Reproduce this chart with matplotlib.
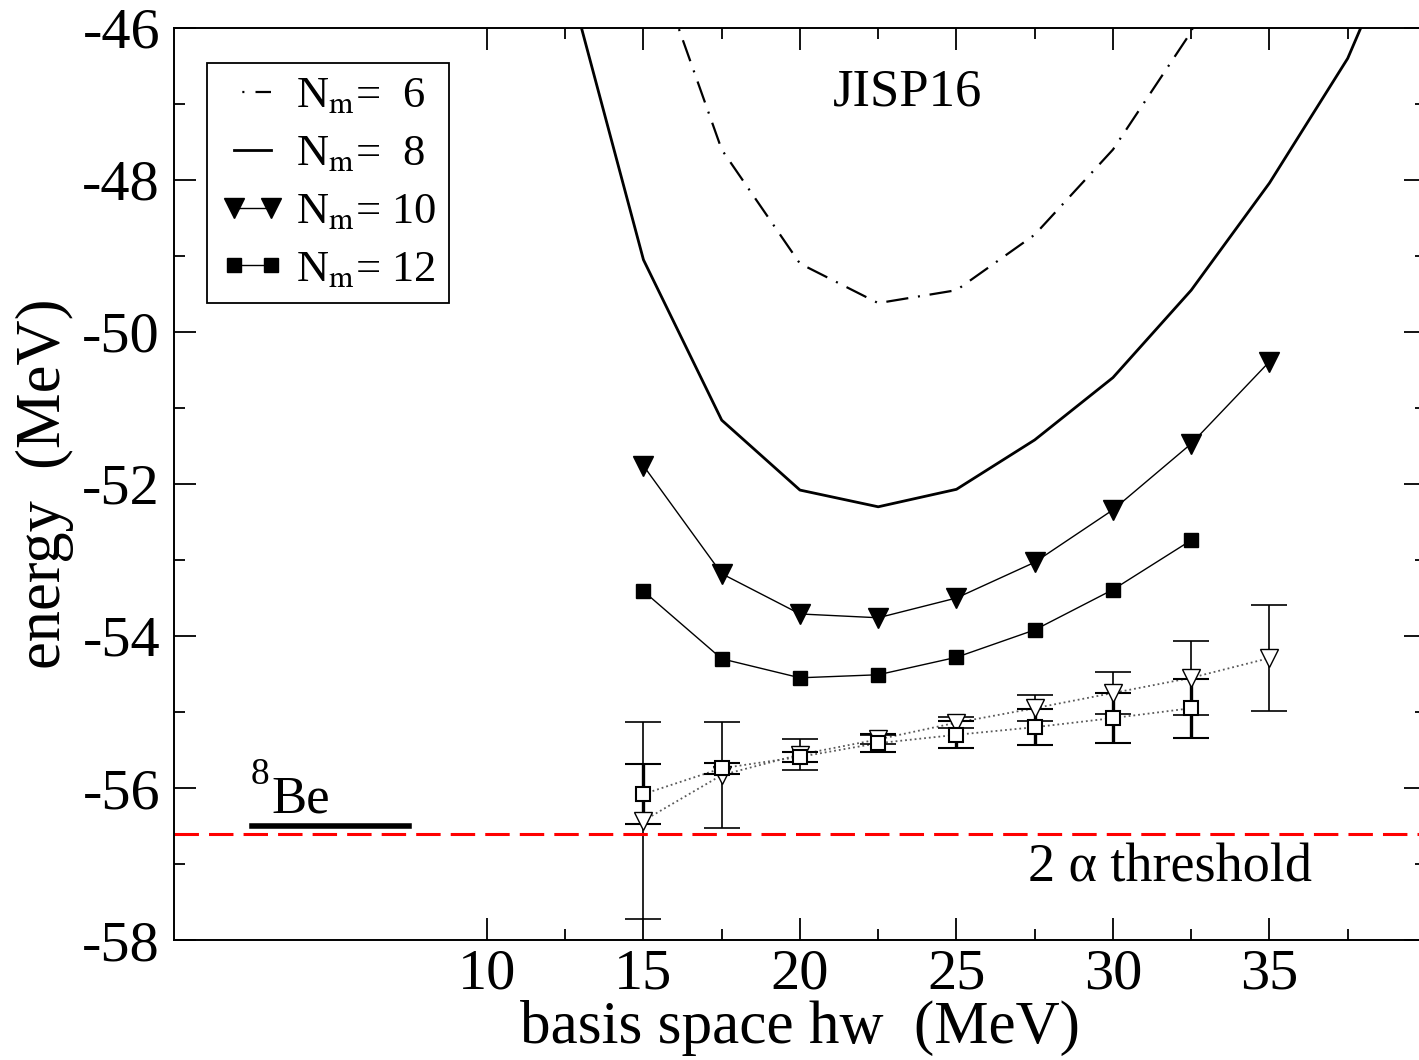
import matplotlib
matplotlib.use("Agg")
import matplotlib.pyplot as plt
from matplotlib.lines import Line2D
from matplotlib.ticker import FixedLocator, MultipleLocator

plt.rcParams['font.family'] = ['Liberation Serif', 'DejaVu Serif']
plt.rcParams['mathtext.fontset'] = 'stix'
plt.rcParams['axes.unicode_minus'] = False

# basis space hw (MeV)
hw = [12.5, 15, 17.5, 20, 22.5, 25, 27.5, 30, 32.5, 35, 37.5, 40]
nm6 = [-41.5, -44.7, -47.6, -49.1, -49.62, -49.45, -48.72, -47.6, -46.05, -43.5, -41.0, -38.5]
nm8 = [-45.2, -49.05, -51.16, -52.08, -52.30, -52.07, -51.42, -50.6, -49.45, -48.04, -46.4, -44.0]

hw10 = [15, 17.5, 20, 22.5, 25, 27.5, 30, 32.5, 35]
nm10 = [-51.76, -53.18, -53.71, -53.76, -53.5, -53.03, -52.34, -51.47, -50.39]

hw12 = [15, 17.5, 20, 22.5, 25, 27.5, 30, 32.5]
nm12 = [-53.41, -54.30, -54.55, -54.51, -54.28, -53.92, -53.39, -52.74]

# extrapolations
ext_tri = [-56.43, -55.83, -55.56, -55.36, -55.14, -54.95, -54.75, -54.55, -54.29]
ext_tri_err = [1.30, 0.70, 0.20, 0.06, 0.07, 0.17, 0.28, 0.49, 0.70]
ext_sq = [-56.08, -55.74, -55.59, -55.41, -55.3, -55.2, -55.08, -54.95]
ext_sq_err = [0.40, 0.07, 0.07, 0.12, 0.18, 0.24, 0.33, 0.39]

threshold = -56.6
be8 = -56.5

fig = plt.figure(figsize=(14.19, 10.6), dpi=100)
ax = fig.add_axes([0.1226, 0.1132, 0.8823, 0.8604])

# dashes are scaled by linewidth (1.6)
dashdot = (10, 4.4, 0.9, 4.4)
ax.plot(hw, nm6, color='black', lw=1.6, dashes=dashdot)
ax.plot(hw, nm8, color='black', lw=2.0)
ax.plot(hw10, nm10, color='black', lw=1.0, marker='v', ms=14)
ax.plot(hw12, nm12, color='black', lw=1.0, marker='s', ms=10)

ax.plot(hw10, ext_tri, color='0.35', lw=1.3, ls=':')
ax.plot(hw12, ext_sq, color='0.35', lw=1.3, ls=':')
ax.errorbar(hw10, ext_tri, yerr=ext_tri_err, fmt='v', mfc='white', mec='black',
            ms=13, ecolor='black', elinewidth=1.2, capsize=13, capthick=1.2)
ax.errorbar(hw12, ext_sq, yerr=ext_sq_err, fmt='s', mfc='white', mec='black',
            ms=10, mew=1.5, ecolor='black', elinewidth=2.4, capsize=13, capthick=2.4)

ax.axhline(threshold, color='red', lw=2.2, dashes=(8, 3.3))
ax.plot([2.5, 7.5], [be8, be8], color='black', lw=4)

ax.text(2.45, -55.95, '8', fontsize=27, ha='left', va='baseline')
ax.text(3.1, -56.32, 'Be', fontsize=38, ha='left', va='baseline')
ax.text(23.45, -46.85, 'JISP16', fontsize=38, ha='center', va='center')
ax.text(27.3, -57.05, '2 α threshold', fontsize=39, ha='left', va='center')

ax.set_xlim(0, 40)
ax.set_ylim(-58, -46)
ax.xaxis.set_major_locator(FixedLocator([10, 15, 20, 25, 30, 35]))
ax.xaxis.set_minor_locator(FixedLocator([12.5, 17.5, 22.5, 27.5, 32.5, 37.5]))
ax.yaxis.set_major_locator(MultipleLocator(2))
ax.yaxis.set_minor_locator(MultipleLocator(1))
ax.tick_params(which='both', direction='in', top=True, right=True, width=1.3, labelsize=42)
ax.tick_params(which='major', length=16, pad=10)
ax.tick_params(axis='x', which='major', pad=6)
ax.tick_params(which='minor', length=8)
for s in ax.spines.values():
    s.set_linewidth(1.4)

ax.set_xlabel('basis space hw  (MeV)', fontsize=44, labelpad=0)
ax.set_ylabel('energy  (MeV)', fontsize=45, labelpad=6)

handles = [
    Line2D([], [], color='black', lw=1.6, linestyle=(25.3, (0.94, 5, 10.6, 12.5))),
    Line2D([], [], color='black', lw=2.0),
    Line2D([], [], color='black', lw=1.0, marker='v', ms=14),
    Line2D([], [], color='black', lw=1.0, marker='s', ms=10),
]
labels = [r'N$_{\rm m}$=  6', r'N$_{\rm m}$=  8', r'N$_{\rm m}$= 10', r'N$_{\rm m}$= 12']
leg = ax.legend(handles, labels, loc='upper left', bbox_to_anchor=(0.0264, 0.9617),
                borderaxespad=0, fontsize=32, numpoints=2, handlelength=1.45,
                handletextpad=0.25, labelspacing=0.4, fancybox=False,
                edgecolor='black', framealpha=1, borderpad=0.3)
leg.get_frame().set_linewidth(1.3)

fig.savefig('out.png', dpi=100)
